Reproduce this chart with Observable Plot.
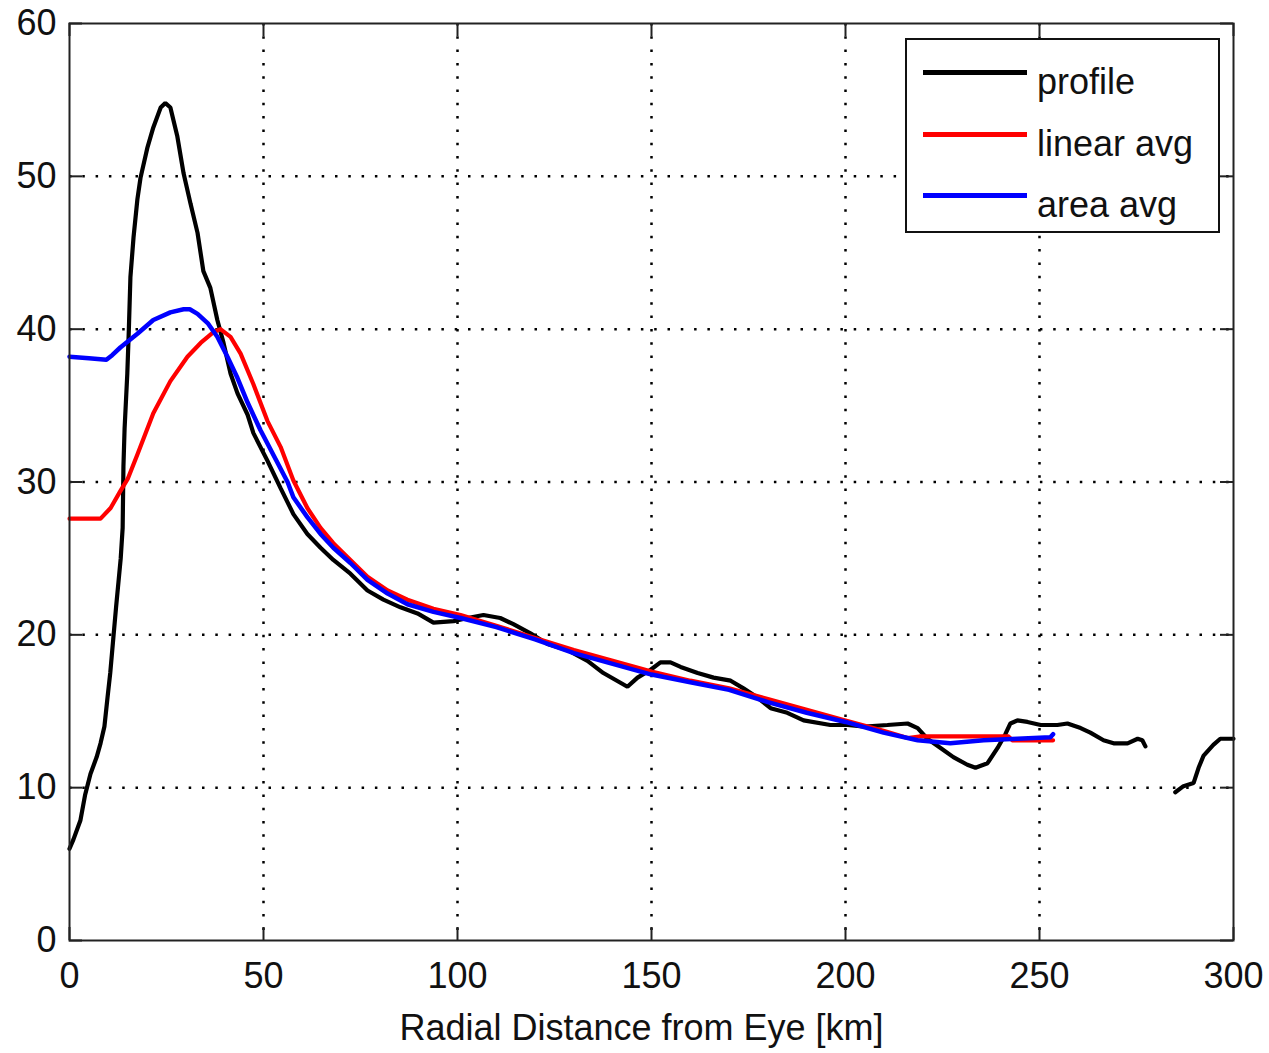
<!DOCTYPE html>
<html>
<head>
<meta charset="utf-8">
<script src="https://cdn.jsdelivr.net/npm/d3@7"></script>
<script src="https://cdn.jsdelivr.net/npm/@observablehq/plot@0.6"></script>
<style>
  html, body { margin: 0; padding: 0; background: #fff; }
  #wrap { position: relative; width: 1269px; height: 1053px; font-family: "Liberation Sans", Arial, sans-serif; }
  #legend { position: absolute; left: 905px; top: 38px; width: 311px; height: 191px; border: 2px solid #111; background: #fff; }
  .row { position: absolute; left: 0; height: 40px; width: 100%; }
  .sw { position: absolute; left: 16px; width: 104px; height: 5px; }
  .lb { position: absolute; left: 130px; font-size: 36px; color: #111; line-height: 1; white-space: nowrap; }
</style>
</head>
<body>
<div id="wrap"></div>
<script>
// ---- data ----
const profileDist = [0,1,2.8,4,5.4,7,8,9,9.8,10.5,11.3,12,12.6,13.2,13.7,13.9,14.2,14.9,15.3,15.7,16.5,17.5,18.3,20.1,21.6,23.5,24.7,26,27.8,29.4,31.2,33,34.5,36.3,38.1,39.7,41.5,43.3,45.9,47.4,51,54.4,57.7,61.3,64.7,68,72.4,76.8,80.9,85.3,89.7,93.8,99,102.6,106.7,111,114.4,118.8,123.2,128.4,133.5,137.6,143.8,146.4,149.7,152.3,154.9,157.5,161.9,166,170.4,173.7,177.3,180.7,185,189.2,196.1,200.5,205,210.8,216,218.6,221.1,224.5,227.8,231.4,233.5,236.6,239.2,241.2,242.5,244.3,246.9,250.3,254.6,257.2,260.6,263.1,266.5,269.1,272.7,275.3,276.5,277.3,281,285,287.1,289.7,291,292.3,294.8,296.6,299.7,300];
const profileSpeed = [6.0,6.6,7.85,9.5,10.9,12,12.9,14,15.9,17.5,19.8,21.8,23.4,25,27,31,33.5,37.1,40,43.4,46,48.5,49.9,51.9,53.2,54.5,54.8,54.5,52.6,50.2,48.2,46.3,43.8,42.7,40.6,39.1,37.1,35.8,34.4,33.2,31.4,29.6,27.9,26.6,25.7,24.9,24,22.9,22.3,21.8,21.4,20.8,20.9,21.1,21.3,21.1,20.7,20.1,19.4,19,18.3,17.5,16.6,17.2,17.7,18.2,18.2,17.9,17.5,17.2,17,16.5,15.9,15.2,14.9,14.4,14.1,14.1,14.0,14.1,14.2,13.9,13.2,12.6,12,11.5,11.3,11.6,12.6,13.5,14.2,14.4,14.3,14.1,14.1,14.2,13.9,13.6,13.1,12.9,12.9,13.2,13.1,12.7,NaN,9.7,10.1,10.3,11.3,12.1,12.8,13.2,13.2,13.2];

const linearDist = [0,5,8,10.6,13.1,15,17.5,21.6,26,30.4,33.8,37.1,38.9,41.5,44.1,47.4,51,54.4,57.7,61.3,64.7,68,72.4,76.8,82,87.1,93.8,100.8,110,120,130,140,150,160,170,180,190,200,210,216,219,242,243,253.5];
const linearSpeed = [27.6,27.6,27.6,28.3,29.4,30.2,31.8,34.5,36.6,38.2,39.1,39.8,40.0,39.5,38.4,36.4,34,32.3,30.1,28.3,27,26,24.9,23.8,22.9,22.3,21.7,21.3,20.6,19.8,19.0,18.3,17.6,17.0,16.5,15.8,15.1,14.4,13.7,13.25,13.35,13.35,13.1,13.1];

const areaDist = [0,5,9.5,11,13.1,17.5,21.6,26,29.4,31,33,35.6,38.1,40.7,43.3,45.9,49.2,53.1,56.2,57.7,61.3,64.7,68,72.4,76.8,82,87.1,93.8,100.8,110,120,130,140,150,160,170,180,190,200,209.8,218.6,227,235.6,244.3,252.8,253.5];
const areaSpeed = [38.2,38.1,38.0,38.3,38.8,39.7,40.6,41.1,41.3,41.3,41.0,40.4,39.5,38.2,36.8,35.2,33.4,31.5,30.0,29.0,27.7,26.6,25.7,24.7,23.6,22.7,22.0,21.5,21.1,20.5,19.7,18.8,18.1,17.4,16.9,16.4,15.6,14.9,14.3,13.6,13.1,12.9,13.1,13.2,13.3,13.5];

const xTicks = [0,50,100,150,200,250,300];
const yTicks = [0,10,20,30,40,50,60];
const xGrid = [50,100,150,200,250];
const yGrid = [10,20,30,40,50];
const xLabel = "Radial Distance from Eye [km]";
const seriesNames = ["profile", "linear avg", "area avg"];
const seriesColors = ["#000000", "#ff0000", "#0000ff"];

// ---- tables ----
const profile = profileDist.map((d, i) => ({x: d, y: profileSpeed[i]}));
const linear = linearDist.map((d, i) => ({x: d, y: linearSpeed[i]}));
const area = areaDist.map((d, i) => ({x: d, y: areaSpeed[i]}));

const chart = Plot.plot({
  width: 1269,
  height: 1053,
  marginLeft: 69,
  marginRight: 36,
  marginTop: 23,
  marginBottom: 113,
  style: {fontFamily: "'Liberation Sans', Arial, sans-serif", fontSize: "36px", color: "#111", background: "#fff"},
  x: {domain: [0, 300]},
  y: {domain: [0, 60]},
  marks: [
    Plot.ruleX(xGrid, {x: d => d, stroke: "#000", strokeWidth: 2.5, strokeDasharray: "2.5,10.8"}),
    Plot.ruleY(yGrid, {y: d => d, stroke: "#000", strokeWidth: 2.5, strokeDasharray: "2.5,10.8"}),
    Plot.line(profile, {x: "x", y: "y", stroke: seriesColors[0], strokeWidth: 4.2, curve: "linear", strokeLinejoin: "miter"}),
    Plot.line(linear, {x: "x", y: "y", stroke: seriesColors[1], strokeWidth: 4.2, curve: "linear"}),
    Plot.line(area, {x: "x", y: "y", stroke: seriesColors[2], strokeWidth: 4.5, curve: "linear"}),
    // inward ticks on four sides
    Plot.ruleX(xTicks, {x: d => d, y1: 0, y2: 0, insetTop: -13, stroke: "#222", strokeWidth: 2}),
    Plot.ruleX(xTicks, {x: d => d, y1: 60, y2: 60, insetBottom: -13, stroke: "#222", strokeWidth: 2}),
    Plot.ruleY(yTicks, {y: d => d, x1: 0, x2: 0, insetRight: -13, stroke: "#222", strokeWidth: 2}),
    Plot.ruleY(yTicks, {y: d => d, x1: 300, x2: 300, insetLeft: -13, stroke: "#222", strokeWidth: 2}),
    Plot.frame({stroke: "#222", strokeWidth: 2}),
    Plot.axisX({ticks: xTicks, tickSize: 0, tickPadding: 22, label: null, fontSize: 36, tickFormat: d => String(d)}),
    Plot.axisY({ticks: yTicks, tickSize: 0, tickPadding: 13, label: null, fontSize: 36, tickFormat: d => String(d)}),
    Plot.text([xLabel], {text: d => d, frameAnchor: "bottom", dy: 88, dx: -10, lineAnchor: "middle", fontSize: 36, fill: "#111"})
  ]
});

const wrap = document.getElementById("wrap");
wrap.appendChild(chart);

// legend overlay inside the axes
const legend = document.createElement("div");
legend.id = "legend";
const rowTops = [14, 76, 137];
seriesNames.forEach((name, i) => {
  const row = document.createElement("div");
  row.className = "row";
  row.style.top = rowTops[i] + "px";
  const sw = document.createElement("div");
  sw.className = "sw";
  sw.style.background = seriesColors[i];
  sw.style.top = "16px";
  const lb = document.createElement("div");
  lb.className = "lb";
  lb.style.top = "10px";
  lb.textContent = name;
  row.appendChild(sw);
  row.appendChild(lb);
  legend.appendChild(row);
});
wrap.appendChild(legend);
</script>
</body>
</html>
